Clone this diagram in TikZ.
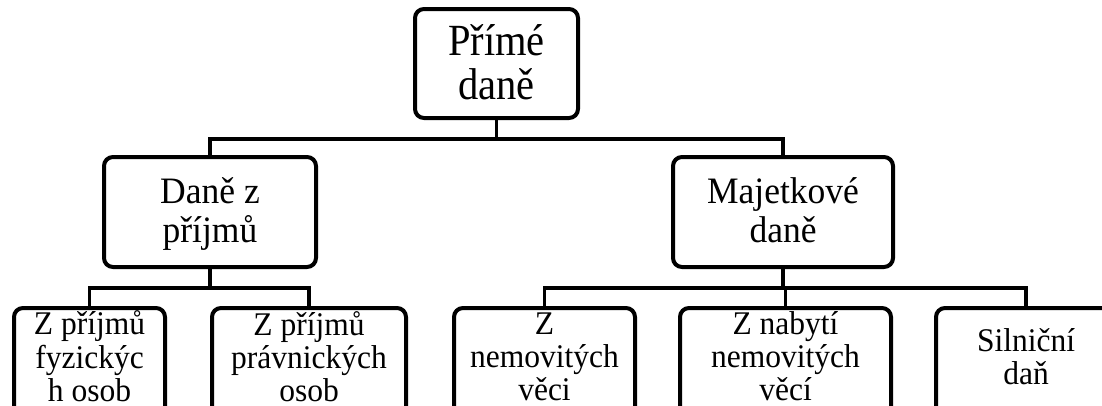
\documentclass[tikz,border=0pt]{standalone}
\usepackage{fontspec}
\usepackage{graphicx}
\setmainfont{Liberation Serif}
% #1 vertical stretch, #2 raise, #3 lines
\newcommand{\stretchtxt}[3]{\raisebox{#2}[\height][\depth]{\scalebox{1}[#1]{\begin{tabular}{@{}c@{}}#3\end{tabular}}}}
\begin{document}
\begin{tikzpicture}[x=1pt,y=-1pt,
  box/.style={draw=black,line width=4pt,rounded corners=9pt,fill=white,
    align=center,inner sep=0pt,text=black},
  topbox/.style={box,minimum width=163pt,minimum height=109pt,font=\fontsize{40.5}{38.2}\selectfont},
  midbox/.style={box,minimum height=110pt,font=\fontsize{35.5}{37.1}\selectfont},
  lowbox/.style={box,minimum height=110pt,font=\fontsize{31.5}{31.4}\selectfont},
  conn/.style={draw=black,line width=3.5pt}]
\useasboundingbox (0,0) rectangle (1102,405);
\clip (0,0) rectangle (1102,405);
\fill[white] (0,0) rectangle (1102,405);
% nodes
\node[topbox] (top) at (496.5,63.5) {\stretchtxt{1.1}{-5pt}{Přímé\\daně}};
\node[midbox,minimum width=212pt] (l2a) at (210,212) {\stretchtxt{1.05}{-3pt}{Daně z\\příjmů}};
\node[midbox,minimum width=220pt] (l2b) at (783,212) {\stretchtxt{1.05}{-3pt}{Majetkové\\daně}};
\node[lowbox,minimum width=151pt] (b1) at (89.5,363) {\stretchtxt{1.05}{2pt}{Z příjmů\\fyzickýc\\h osob}};
\node[lowbox,minimum width=194pt] (b2) at (309,363) {\stretchtxt{1.05}{2pt}{Z příjmů\\právnických\\osob}};
\node[lowbox,minimum width=181pt] (b3) at (544.5,363) {\stretchtxt{1.05}{2pt}{Z\\nemovitých\\věci}};
\node[lowbox,minimum width=211pt] (b4) at (785.5,363) {\stretchtxt{1.05}{2pt}{Z nabytí\\nemovitých\\věcí}};
\node[lowbox,minimum width=180pt] (b5) at (1026,363) {\stretchtxt{1.05}{2pt}{Silniční\\daň}};
% connectors
\draw[conn] (top.south) -- ++(0,19) -| (l2a.north);
\draw[conn] (top.south) -- ++(0,19) -| (l2b.north);
\draw[conn] (l2a.south) -- ++(0,19) -| (b1.north);
\draw[conn] (l2a.south) -- ++(0,19) -| (b2.north);
\draw[conn] (l2b.south) -- ++(0,19) -| (b3.north);
\draw[conn] (l2b.south) -- ++(0,19) -| (b4.north);
\draw[conn] (l2b.south) -- ++(0,19) -| (b5.north);
\end{tikzpicture}
\end{document}
